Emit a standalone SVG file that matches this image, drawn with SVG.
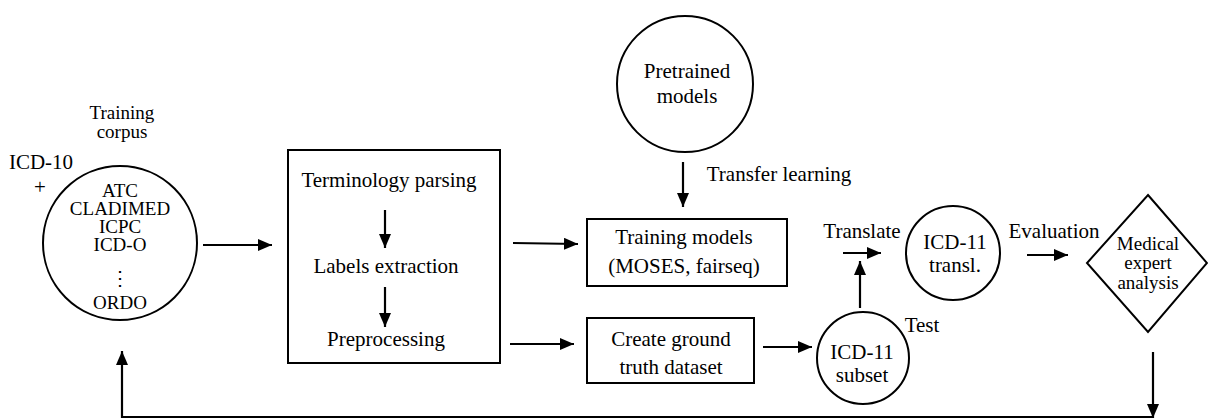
<svg xmlns="http://www.w3.org/2000/svg" width="1208" height="419" viewBox="0 0 1208 419">
<style>
.t{font-family:'Liberation Serif','Times New Roman','DejaVu Serif','Noto Serif',serif;font-size:21px;fill:#000;text-anchor:middle}
.s{font-size:19px}
.shape{fill:#fff;stroke:#000;stroke-width:2}
.conn{fill:none;stroke:#000;stroke-width:2.2;marker-end:url(#ah)}
</style>
<defs>
<marker id="ah" markerUnits="userSpaceOnUse" markerWidth="14" markerHeight="12" refX="14" refY="6" orient="auto">
<path d="M0,0 L14,6 L0,12 z" fill="#000"/>
</marker>
</defs>
<rect width="1208" height="419" fill="#fff"/>

<g id="corpus" class="t" font-family="Liberation Serif, serif">
<text class="s" x="122" y="119">Training</text>
<text class="s" x="122" y="138">corpus</text>
<text x="41" y="169">ICD-10</text>
<text x="40" y="194">+</text>
<circle class="shape" cx="120" cy="243" r="77"/>
<text class="s" x="120" y="197">ATC</text>
<text class="s" x="120" y="215">CLADIMED</text>
<text class="s" x="120" y="233">ICPC</text>
<text class="s" x="120" y="251">ICD-O</text>
<text x="120" y="285" style="font-family:'DejaVu Serif',serif;font-size:20px">⋮</text>
<text class="s" x="120" y="309">ORDO</text>
</g>

<g id="processing" class="t" font-family="Liberation Serif, serif">
<rect class="shape" x="288" y="150" width="212" height="213"/>
<text x="389" y="187">Terminology parsing</text>
<text x="386" y="273">Labels extraction</text>
<text x="386" y="346">Preprocessing</text>
</g>

<g id="pretrained" class="t" font-family="Liberation Serif, serif">
<circle class="shape" cx="685" cy="84" r="68"/>
<text x="687" y="78">Pretrained</text>
<text x="687" y="103">models</text>
</g>

<g id="training" class="t" font-family="Liberation Serif, serif">
<rect class="shape" x="587" y="219" width="200" height="67"/>
<text x="684" y="244">Training models</text>
<text x="684" y="273">(MOSES, fairseq)</text>
</g>

<g id="groundtruth" class="t" font-family="Liberation Serif, serif">
<rect class="shape" x="587" y="318" width="167" height="65"/>
<text x="671" y="346">Create ground</text>
<text x="671" y="374">truth dataset</text>
</g>

<g id="subset" class="t" font-family="Liberation Serif, serif">
<circle class="shape" cx="863" cy="358" r="46"/>
<text x="862" y="359">ICD-11</text>
<text x="862" y="382">subset</text>
</g>

<g id="transl" class="t" font-family="Liberation Serif, serif">
<circle class="shape" cx="953" cy="253" r="47"/>
<text x="955" y="249">ICD-11</text>
<text x="955" y="272">transl.</text>
</g>

<g id="expert" class="t" font-family="Liberation Serif, serif">
<polygon class="shape" points="1148,195 1207,263 1148,332 1087,263"/>
<text class="s" x="1148" y="250">Medical</text>
<text class="s" x="1148" y="269">expert</text>
<text class="s" x="1148" y="289">analysis</text>
</g>

<g id="connectors" class="t" font-family="Liberation Serif, serif">
<line class="conn" x1="203" y1="245" x2="272" y2="245"/>
<line class="conn" x1="385" y1="210" x2="385" y2="248"/>
<line class="conn" x1="385" y1="287" x2="385" y2="327"/>
<line class="conn" x1="513" y1="243" x2="578" y2="244"/>
<line class="conn" x1="510" y1="344" x2="574" y2="344"/>
<line class="conn" x1="683" y1="162" x2="683" y2="207"/>
<text x="779" y="181">Transfer learning</text>
<line class="conn" x1="763" y1="347" x2="812" y2="347"/>
<line class="conn" x1="860" y1="308" x2="860" y2="261"/>
<line class="conn" x1="843" y1="253" x2="881" y2="253"/>
<text x="862" y="238">Translate</text>
<text x="922" y="332">Test</text>
<line class="conn" x1="1027" y1="255" x2="1068" y2="255"/>
<text x="1054" y="238">Evaluation</text>
<line class="conn" x1="1153" y1="352" x2="1153" y2="418"/>
<polyline class="conn" points="1153,417 122,417 122,351"/>
</g>
</svg>
